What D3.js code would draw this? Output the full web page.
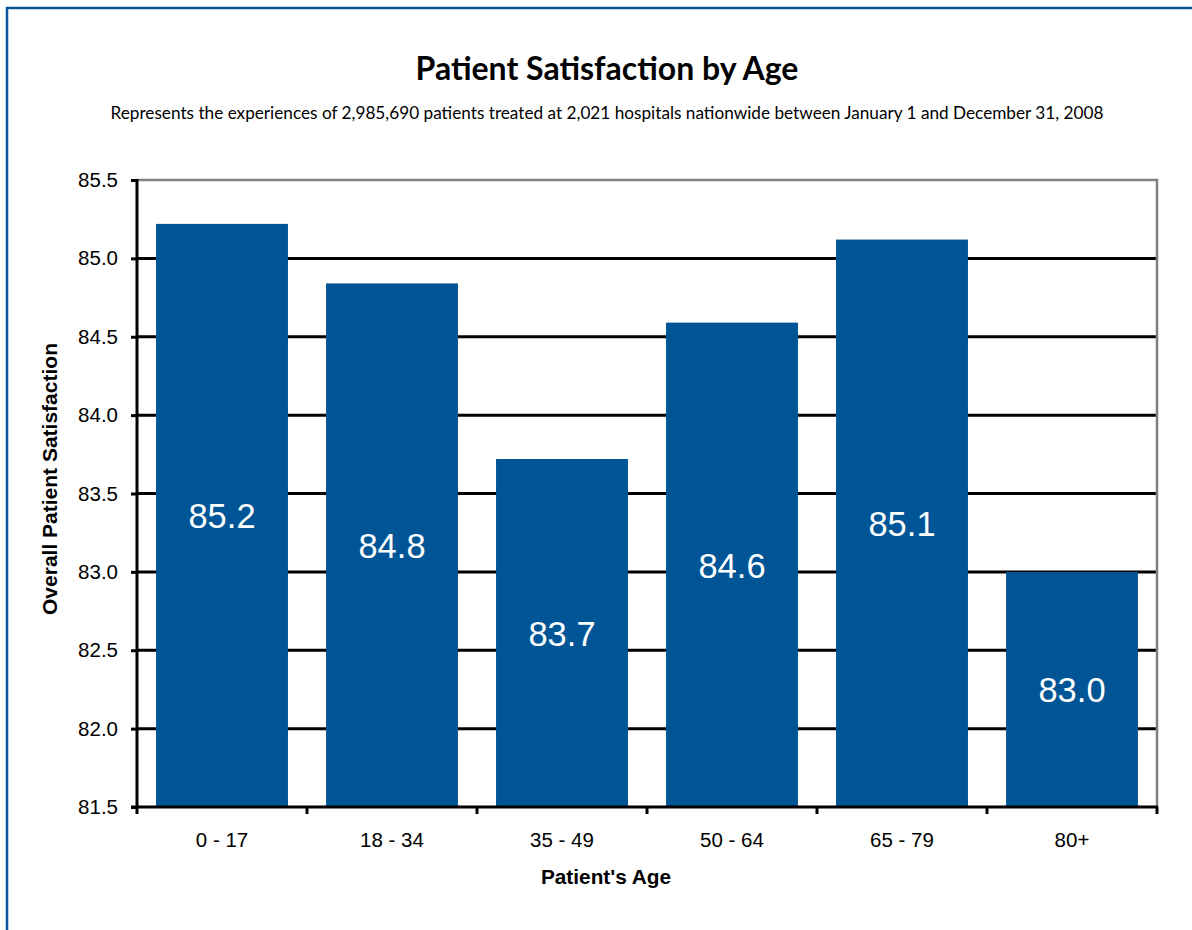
<!DOCTYPE html>
<html>
<head>
<meta charset="utf-8">
<script src="https://cdn.jsdelivr.net/npm/d3@7"></script>
<style>
  html, body { margin: 0; padding: 0; background: #fff; }
  svg { display: block; }
</style>
</head>
<body>
<svg id="chart" width="1192" height="930"></svg>
<script>
const categories = ["0 - 17", "18 - 34", "35 - 49", "50 - 64", "65 - 79", "80+"];
const satisfaction = [85.22, 84.84, 83.72, 84.59, 85.12, 83.0];
const yTicks = [81.5, 82.0, 82.5, 83.0, 83.5, 84.0, 84.5, 85.0, 85.5];
const titleText = "Patient Satisfaction by Age";
const subtitleText = "Represents the experiences of 2,985,690 patients treated at 2,021 hospitals nationwide between January 1 and December 31, 2008";
const xTitle = "Patient's Age";
const yTitle = "Overall Patient Satisfaction";

const svg = d3.select("#chart");
const W = 1192, H = 930;
const plot = { left: 137, right: 1157, top: 180, bottom: 807 };
const barColor = "#005596";

// outer border (blue frame, continues beyond the right/bottom edges)
svg.append("path")
  .attr("d", `M7,${H + 5} L7,8 L${W + 5},8`)
  .attr("fill", "none")
  .attr("stroke", "#0b569b")
  .attr("stroke-width", 2.5);

// titles
svg.append("text")
  .attr("x", 607).attr("y", 80)
  .attr("text-anchor", "middle")
  .style("font-family", "Lato, 'Open Sans', sans-serif")
  .style("font-weight", "bold")
  .style("font-size", "32px")
  .attr("fill", "#000")
  .text(titleText);

svg.append("text")
  .attr("x", 607).attr("y", 119)
  .attr("text-anchor", "middle")
  .style("font-family", "Lato, 'Open Sans', sans-serif")
  .style("font-size", "17.2px")
  .attr("fill", "#000")
  .text(subtitleText);

const x = d3.scaleBand()
  .domain(categories)
  .range([plot.left, plot.right])
  .paddingInner(0.224)
  .paddingOuter(0.112);

const y = d3.scaleLinear()
  .domain([yTicks[0], yTicks[yTicks.length - 1]])
  .range([plot.bottom, plot.top]);

// gridlines (black)
const gridVals = yTicks.slice(1, -1);
svg.append("g").selectAll("line")
  .data(gridVals)
  .join("line")
  .attr("x1", plot.left).attr("x2", plot.right)
  .attr("y1", d => y(d)).attr("y2", d => y(d))
  .attr("stroke", "#000")
  .attr("stroke-width", 3);

// plot frame top and right (gray)
svg.append("path")
  .attr("d", `M${plot.left},${y(yTicks[yTicks.length - 1])} L${plot.right},${y(yTicks[yTicks.length - 1])} L${plot.right},${plot.bottom}`)
  .attr("fill", "none")
  .attr("stroke", "#808080")
  .attr("stroke-width", 2.5);

// bars
svg.append("g").selectAll("rect")
  .data(categories.map((c, i) => ({ c, v: satisfaction[i] })))
  .join("rect")
  .attr("x", d => x(d.c))
  .attr("y", d => y(d.v))
  .attr("width", x.bandwidth())
  .attr("height", d => y(yTicks[0]) - y(d.v))
  .attr("fill", barColor);

// bar labels
svg.append("g").selectAll("text")
  .data(categories.map((c, i) => ({ c, v: satisfaction[i] })))
  .join("text")
  .attr("x", d => x(d.c) + x.bandwidth() / 2)
  .attr("y", d => (y(d.v) + y(yTicks[0])) / 2)
  .attr("dy", "0.37em")
  .attr("text-anchor", "middle")
  .style("font-family", "Arial, 'Liberation Sans', sans-serif")
  .style("font-size", "34.5px")
  .attr("fill", "#fff")
  .text(d => d3.format(".1f")(d.v));

// y axis
const yAxis = svg.append("g")
  .attr("transform", `translate(${plot.left},0)`)
  .call(d3.axisLeft(y).tickValues(yTicks).tickFormat(d3.format(".1f")).tickSize(6).tickPadding(13));
yAxis.select(".domain").attr("stroke", "#000").attr("stroke-width", 3)
  .attr("d", `M0,${plot.top - 1}V${plot.bottom + 1}`);
yAxis.selectAll(".tick line").attr("stroke", "#000").attr("stroke-width", 3);
yAxis.selectAll(".tick text")
  .style("font-family", "Arial, 'Liberation Sans', sans-serif")
  .style("font-size", "20.5px")
  .attr("fill", "#000");

// x axis: labels at band centres, ticks at band boundaries
const xAxis = svg.append("g")
  .attr("transform", `translate(0,${plot.bottom})`)
  .call(d3.axisBottom(x).tickSize(0).tickPadding(25));
xAxis.select(".domain").attr("stroke", "#000").attr("stroke-width", 3)
  .attr("d", `M${plot.left - 6},0H${plot.right + 1}`);
xAxis.selectAll(".tick text")
  .style("font-family", "Arial, 'Liberation Sans', sans-serif")
  .style("font-size", "20.5px")
  .attr("fill", "#000");

const boundaries = d3.range(categories.length + 1).map(i => plot.left + i * x.step());
svg.append("g").selectAll("line")
  .data(boundaries)
  .join("line")
  .attr("x1", d => d).attr("x2", d => d)
  .attr("y1", plot.bottom).attr("y2", plot.bottom + 7)
  .attr("stroke", "#000")
  .attr("stroke-width", 3);

// axis titles
svg.append("text")
  .attr("x", 606).attr("y", 884)
  .attr("text-anchor", "middle")
  .style("font-family", "Arial, 'Liberation Sans', sans-serif")
  .style("font-weight", "bold")
  .style("font-size", "20.8px")
  .attr("fill", "#000")
  .text(xTitle);

svg.append("text")
  .attr("transform", `translate(57,479) rotate(-90)`)
  .attr("text-anchor", "middle")
  .style("font-family", "Arial, 'Liberation Sans', sans-serif")
  .style("font-weight", "bold")
  .style("font-size", "21px")
  .attr("fill", "#000")
  .text(yTitle);
</script>
</body>
</html>
